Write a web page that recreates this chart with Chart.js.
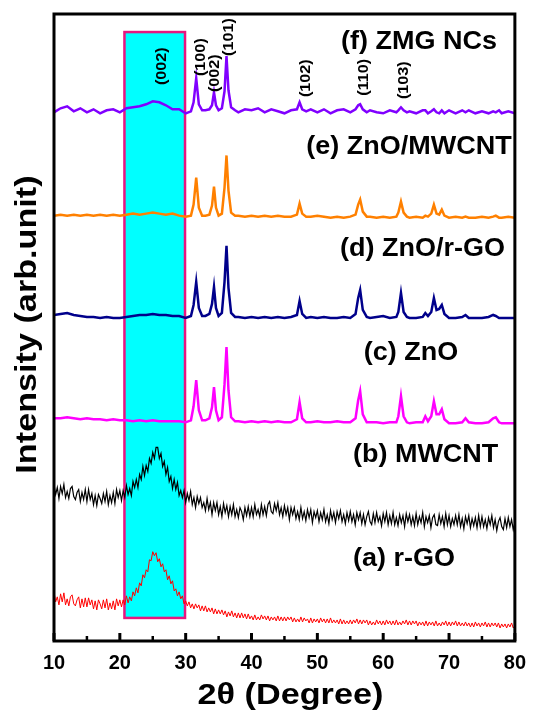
<!DOCTYPE html>
<html>
<head>
<meta charset="utf-8">
<script src="https://cdn.jsdelivr.net/npm/chart.js@4.4.0/dist/chart.umd.min.js"></script>
<style>
  html, body { margin: 0; padding: 0; background: #fff; }
  canvas { display: block; }
</style>
</head>
<body>
<canvas id="xrdChart" width="536" height="714"></canvas>
<script>
// 2theta positions for the ZnO based patterns (denser around the peaks)
const zincX = [
  10, 11, 12, 13, 14, 15, 16, 17, 18, 19, 20, 21, 22, 23, 24, 25, 26, 27, 28, 29, 30,
  30.8, 31.2, 31.6, 32.0, 32.5, 33.0, 33.6, 34.0, 34.3, 34.6, 35.0, 35.5, 35.9, 36.2, 36.5, 36.9, 37.5,
  38, 39, 40, 41, 42, 43, 44, 45, 46,
  46.9, 47.3, 47.7, 48.3,
  49, 50, 51, 52, 53, 54, 55,
  55.8, 56.2, 56.5, 56.9, 57.5,
  58, 59, 60, 61, 62,
  62.3, 62.7, 63.1, 63.6,
  64, 65, 66,
  66.4, 66.8, 67.3, 67.7, 68.1, 68.5, 68.9, 69.3,
  70, 71, 72, 72.5, 73, 74, 75, 76,
  76.7, 77.1, 77.6,
  78, 79, 80
];

// stacked intensities (arb. units, offsets included)
const zmgY = [
  527, 531, 533, 528, 531, 527, 530, 526, 529, 530, 527, 531, 532, 533, 535, 538, 537, 534, 530, 530, 526,
  528, 537, 561, 535, 529, 529, 530, 534, 547, 534, 529, 531, 548, 583, 549, 532, 529,
  527, 530, 529, 531, 527, 530, 528, 526, 529,
  530, 537, 530, 528,
  530, 527, 530, 526, 529, 530, 527,
  530, 534, 535, 530, 527,
  529, 527, 526, 529, 527,
  529, 532, 529, 527,
  528, 526, 529,
  529, 526, 528, 530, 527, 526, 529, 526,
  529, 526, 529, 527, 529, 526, 528, 526,
  528, 527, 529,
  526, 528, 526
];
const znoCntY = [
  424, 425, 424, 425, 424, 425, 424, 425, 424, 425, 424, 425, 426, 425, 426, 427, 426, 425, 426, 424, 423,
  424, 435, 462, 432, 424, 424, 425, 434, 453, 432, 424, 426, 452, 484, 449, 427, 424,
  424, 423, 424, 423, 424, 423, 424, 423, 423,
  425, 436, 426, 423,
  423, 424, 423, 422, 423, 422, 423,
  425, 435, 440, 428, 423,
  423, 422, 423, 422, 423,
  427, 438, 427, 423,
  422, 423, 422,
  424, 423, 426, 435, 426, 425, 430, 424,
  422, 423, 422, 423, 422, 422, 423, 422,
  423, 424, 422,
  422, 423, 422
];
const znoRgoY = [
  325, 326, 327, 325, 324, 323, 323, 322, 323, 322, 322, 323, 324, 325, 325, 326, 325, 325, 324, 324, 322,
  324, 335, 358, 332, 324, 324, 326, 336, 353, 332, 324, 327, 358, 394, 352, 327, 323,
  323, 322, 323, 322, 323, 322, 323, 322, 323,
  325, 339, 326, 322,
  323, 322, 323, 322, 322, 323, 322,
  326, 342, 350, 330, 323,
  322, 323, 324, 322, 323,
  328, 347, 328, 323,
  322, 322, 323,
  327, 324, 328, 342, 330, 331, 335, 326,
  322, 322, 323, 325, 322, 322, 322, 323,
  325, 324, 322,
  322, 322, 322
];
const znoY = [
  222, 222, 223, 222, 221, 222, 221, 221, 220, 221, 220, 220, 219, 220, 219, 220, 219, 219, 219, 219, 218,
  220, 234, 260, 230, 220, 220, 222, 233, 253, 230, 220, 223, 256, 293, 250, 223, 219,
  219, 218, 219, 218, 219, 218, 219, 218, 218,
  221, 238, 222, 218,
  218, 219, 218, 218, 219, 218, 218,
  222, 240, 249, 226, 218,
  218, 218, 217, 218, 218,
  224, 244, 224, 218,
  217, 218, 218,
  224, 219, 224, 239, 226, 226, 231, 221,
  217, 217, 218, 222, 218, 217, 217, 218,
  222, 223, 218,
  217, 217, 217
];

// 2theta grid of the carbon scans (every 0.25 deg)
const carbonX = [
  10, 10.25, 10.5, 10.75, 11, 11.25, 11.5, 11.75, 12, 12.25, 12.5, 12.75, 13, 13.25, 13.5, 13.75, 14, 14.25, 14.5, 14.75,
  15, 15.25, 15.5, 15.75, 16, 16.25, 16.5, 16.75, 17, 17.25, 17.5, 17.75, 18, 18.25, 18.5, 18.75, 19, 19.25, 19.5, 19.75,
  20, 20.25, 20.5, 20.75, 21, 21.25, 21.5, 21.75, 22, 22.25, 22.5, 22.75, 23, 23.25, 23.5, 23.75, 24, 24.25, 24.5, 24.75,
  25, 25.25, 25.5, 25.75, 26, 26.25, 26.5, 26.75, 27, 27.25, 27.5, 27.75, 28, 28.25, 28.5, 28.75, 29, 29.25, 29.5, 29.75,
  30, 30.25, 30.5, 30.75, 31, 31.25, 31.5, 31.75, 32, 32.25, 32.5, 32.75, 33, 33.25, 33.5, 33.75, 34, 34.25, 34.5, 34.75,
  35, 35.25, 35.5, 35.75, 36, 36.25, 36.5, 36.75, 37, 37.25, 37.5, 37.75, 38, 38.25, 38.5, 38.75, 39, 39.25, 39.5, 39.75,
  40, 40.25, 40.5, 40.75, 41, 41.25, 41.5, 41.75, 42, 42.25, 42.5, 42.75, 43, 43.25, 43.5, 43.75, 44, 44.25, 44.5, 44.75,
  45, 45.25, 45.5, 45.75, 46, 46.25, 46.5, 46.75, 47, 47.25, 47.5, 47.75, 48, 48.25, 48.5, 48.75, 49, 49.25, 49.5, 49.75,
  50, 50.25, 50.5, 50.75, 51, 51.25, 51.5, 51.75, 52, 52.25, 52.5, 52.75, 53, 53.25, 53.5, 53.75, 54, 54.25, 54.5, 54.75,
  55, 55.25, 55.5, 55.75, 56, 56.25, 56.5, 56.75, 57, 57.25, 57.5, 57.75, 58, 58.25, 58.5, 58.75, 59, 59.25, 59.5, 59.75,
  60, 60.25, 60.5, 60.75, 61, 61.25, 61.5, 61.75, 62, 62.25, 62.5, 62.75, 63, 63.25, 63.5, 63.75, 64, 64.25, 64.5, 64.75,
  65, 65.25, 65.5, 65.75, 66, 66.25, 66.5, 66.75, 67, 67.25, 67.5, 67.75, 68, 68.25, 68.5, 68.75, 69, 69.25, 69.5, 69.75,
  70, 70.25, 70.5, 70.75, 71, 71.25, 71.5, 71.75, 72, 72.25, 72.5, 72.75, 73, 73.25, 73.5, 73.75, 74, 74.25, 74.5, 74.75,
  75, 75.25, 75.5, 75.75, 76, 76.25, 76.5, 76.75, 77, 77.25, 77.5, 77.75, 78, 78.25, 78.5, 78.75, 79, 79.25, 79.5, 79.75,
  80
];
const mwcntY = [
  156, 146, 153, 142, 154, 147, 156, 143, 149, 142, 152, 154, 144, 141, 148, 151, 139, 148, 141, 151,
  139, 151, 141, 147, 136, 145, 135, 146, 142, 137, 147, 139, 149, 136, 145, 138, 148, 137, 151, 143,
  150, 140, 150, 143, 155, 146, 152, 145, 159, 153, 161, 153, 166, 161, 174, 165, 175, 169, 182, 177,
  188, 182, 193, 193, 182, 187, 174, 179, 166, 173, 159, 164, 152, 161, 151, 158, 145, 150, 143, 150,
  138, 147, 140, 149, 136, 143, 133, 144, 137, 143, 133, 138, 130, 142, 131, 138, 126, 138, 130, 138,
  126, 134, 124, 137, 128, 135, 124, 134, 126, 136, 124, 131, 123, 133, 129, 121, 133, 125, 134, 124,
  133, 124, 136, 126, 131, 124, 136, 126, 134, 125, 136, 139, 129, 127, 137, 130, 138, 126, 133, 124,
  135, 126, 133, 121, 133, 126, 133, 122, 129, 121, 133, 122, 129, 120, 131, 123, 131, 118, 129, 123,
  130, 119, 128, 121, 131, 119, 126, 117, 130, 121, 128, 118, 129, 122, 130, 119, 126, 117, 128, 120,
  129, 119, 126, 116, 128, 121, 128, 117, 126, 116, 124, 129, 119, 116, 127, 118, 128, 119, 124, 115,
  127, 119, 128, 116, 125, 117, 128, 116, 123, 115, 126, 118, 125, 114, 127, 119, 126, 116, 124, 115,
  127, 116, 124, 118, 128, 114, 124, 118, 125, 113, 123, 126, 116, 115, 126, 117, 124, 114, 127, 116,
  125, 114, 122, 116, 125, 116, 126, 114, 122, 112, 124, 117, 125, 113, 122, 115, 123, 113, 125, 114,
  124, 114, 121, 112, 123, 116, 125, 113, 121, 110, 119, 123, 114, 111, 122, 113, 123, 114, 121, 111,
  118
];
const rgoY = [
  49, 39, 44, 36, 47, 39, 48, 36, 42, 35, 44, 46, 37, 35, 41, 44, 33, 42, 34, 43,
  34, 43, 36, 41, 32, 40, 31, 41, 37, 32, 41, 33, 42, 31, 38, 32, 40, 31, 42, 35,
  41, 34, 41, 36, 45, 38, 44, 40, 49, 45, 53, 48, 58, 55, 66, 63, 71, 69, 81, 80,
  89, 85, 88, 79, 82, 74, 77, 69, 71, 61, 65, 57, 60, 50, 52, 45, 49, 42, 45, 37,
  40, 35, 39, 33, 37, 32, 37, 33, 36, 30, 35, 30, 35, 29, 33, 29, 33, 27, 32, 27,
  31, 27, 31, 26, 30, 24, 29, 25, 30, 24, 28, 23, 28, 23, 28, 23, 27, 22, 27, 22,
  25, 21, 26, 21, 24, 21, 26, 22, 25, 21, 25, 20, 24, 21, 24, 20, 25, 20, 24, 20,
  24, 20, 24, 21, 24, 19, 23, 19, 22, 19, 24, 19, 23, 20, 22, 18, 23, 18, 22, 19,
  22, 18, 23, 19, 22, 18, 22, 18, 23, 18, 21, 18, 21, 17, 22, 17, 21, 17, 20, 17,
  21, 17, 21, 18, 22, 17, 21, 17, 21, 18, 21, 16, 20, 16, 19, 16, 21, 17, 20, 16,
  20, 16, 21, 17, 20, 16, 20, 16, 21, 16, 19, 16, 20, 17, 21, 16, 20, 16, 20, 17,
  20, 15, 19, 16, 19, 15, 20, 15, 19, 16, 19, 15, 20, 15, 18, 15, 19, 16, 20, 15,
  19, 15, 19, 16, 20, 15, 19, 15, 18, 15, 19, 15, 18, 14, 18, 14, 19, 15, 18, 14,
  18, 15, 19, 14, 18, 14, 18, 15, 18, 14, 18, 13, 17, 14, 17, 13, 17, 14, 18, 13,
  15
];

const xTicks = [10, 20, 30, 40, 50, 60, 70, 80];
const minorTicks = [15, 25, 35, 45, 55, 65, 75];
const highlightX = [20.7, 29.9];
const highlightY = [23, 607];

// sample names: [text, 2theta of left edge, y of middle]
const sampleLabels = [
  ['(f) ZMG NCs', 53.6, 597],
  ['(e) ZnO/MWCNT', 48.3, 492],
  ['(d) ZnO/r-GO', 53.45, 391],
  ['(c) ZnO', 57.05, 287],
  ['(b) MWCNT', 55.4, 185],
  ['(a) r-GO', 55.4, 82]
];
// reflections: [text, 2theta, y of middle]
const hklLabels = [
  ['(002)', 26.4, 573],
  ['(100)', 32.3, 582],
  ['(002)', 34.4, 566],
  ['(101)', 36.6, 602],
  ['(102)', 48.2, 561],
  ['(110)', 57.1, 562],
  ['(103)', 63.1, 559]
];

const FONT = '"Liberation Sans", Arial, sans-serif';

function toPoints(xs, ys) {
  return xs.map((x, i) => ({ x: x, y: ys[i] }));
}

function drawText(ctx, text, x, y, size, stretch, rotate, align) {
  ctx.save();
  ctx.translate(x, y);
  if (rotate) ctx.rotate(-Math.PI / 2);
  ctx.scale(stretch, 1);
  ctx.font = 'bold ' + size + 'px ' + FONT;
  ctx.textAlign = align;
  ctx.textBaseline = 'middle';
  ctx.fillStyle = '#000';
  ctx.fillText(text, 0, 0);
  ctx.restore();
}

const xrdDecor = {
  id: 'xrdDecor',
  beforeDatasetsDraw(chart) {
    const ctx = chart.ctx;
    const xs = chart.scales.x, ys = chart.scales.y;
    const x0 = xs.getPixelForValue(highlightX[0]);
    const x1 = xs.getPixelForValue(highlightX[1]);
    const y0 = ys.getPixelForValue(highlightY[1]);
    const y1 = ys.getPixelForValue(highlightY[0]);
    ctx.save();
    ctx.fillStyle = '#00ffff';
    ctx.fillRect(x0, y0, x1 - x0, y1 - y0);
    ctx.strokeStyle = '#e8167f';
    ctx.lineWidth = 2.5;
    ctx.strokeRect(x0, y0, x1 - x0, y1 - y0);
    ctx.restore();
  },
  afterDatasetsDraw(chart) {
    const ctx = chart.ctx;
    const a = chart.chartArea;
    const xs = chart.scales.x, ys = chart.scales.y;

    ctx.save();
    ctx.strokeStyle = '#000';
    ctx.lineWidth = 3;
    ctx.strokeRect(a.left, a.top, a.right - a.left, a.bottom - a.top);
    // inward tick marks
    xTicks.forEach(v => {
      const px = xs.getPixelForValue(v);
      ctx.beginPath();
      ctx.moveTo(px, a.bottom);
      ctx.lineTo(px, a.bottom - 8);
      ctx.stroke();
    });
    ctx.lineWidth = 2.5;
    minorTicks.forEach(v => {
      const px = xs.getPixelForValue(v);
      ctx.beginPath();
      ctx.moveTo(px, a.bottom);
      ctx.lineTo(px, a.bottom - 5);
      ctx.stroke();
    });
    ctx.restore();

    sampleLabels.forEach(l => {
      drawText(ctx, l[0], xs.getPixelForValue(l[1]), ys.getPixelForValue(l[2]), 25, 1.08, false, 'left');
    });
    hklLabels.forEach(l => {
      drawText(ctx, l[0], xs.getPixelForValue(l[1]), ys.getPixelForValue(l[2]), 15, 1.08, true, 'center');
    });

    // axis titles
    drawText(ctx, 'Intensity (arb.unit)', a.left - 26, (a.top + a.bottom) / 2 - 3, 30, 1.14, true, 'center');
    drawText(ctx, '2\u03b8 (Degree)', (a.left + a.right) / 2 + 6, a.bottom + 55, 29, 1.18, false, 'center');
  }
};

const ctx = document.getElementById('xrdChart').getContext('2d');
const xrdChart = new Chart(ctx, {
  type: 'line',
  data: {
    datasets: [
      { label: '(a) r-GO', data: toPoints(carbonX, rgoY), borderColor: '#ff0000', borderWidth: 1 },
      { label: '(b) MWCNT', data: toPoints(carbonX, mwcntY), borderColor: '#000000', borderWidth: 1.2 },
      { label: '(c) ZnO', data: toPoints(zincX, znoY), borderColor: '#ff00ff', borderWidth: 2.5 },
      { label: '(d) ZnO/r-GO', data: toPoints(zincX, znoRgoY), borderColor: '#00008b', borderWidth: 2.5 },
      { label: '(e) ZnO/MWCNT', data: toPoints(zincX, znoCntY), borderColor: '#ff8000', borderWidth: 2.5 },
      { label: '(f) ZMG NCs', data: toPoints(zincX, zmgY), borderColor: '#8000ff', borderWidth: 2.5 }
    ]
  },
  options: {
    responsive: false,
    animation: false,
    devicePixelRatio: 1,
    layout: { padding: { left: 54, right: 12, top: 14, bottom: 29 } },
    elements: { point: { radius: 0 }, line: { tension: 0, fill: false } },
    plugins: { legend: { display: false }, tooltip: { enabled: false } },
    scales: {
      x: {
        type: 'linear',
        min: 10,
        max: 80,
        afterBuildTicks: scale => { scale.ticks = xTicks.map(v => ({ value: v })); },
        ticks: { color: '#000', padding: 10, font: { family: FONT, size: 20, weight: 'bold' } },
        grid: { display: false, drawTicks: false },
        border: { display: false }
      },
      y: {
        display: false,
        min: 0,
        max: 625
      }
    }
  },
  plugins: [xrdDecor]
});
</script>
</body>
</html>
